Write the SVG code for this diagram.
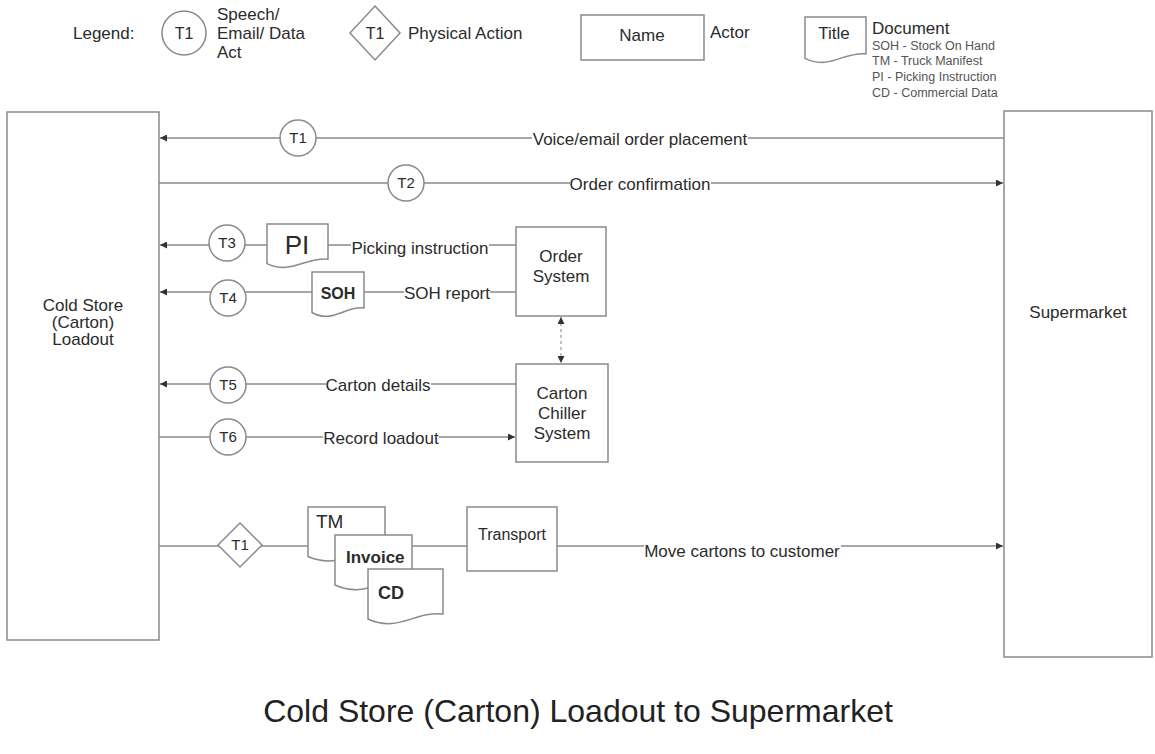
<svg xmlns="http://www.w3.org/2000/svg" width="1155" height="754" viewBox="0 0 1155 754">
<style>
text{font-family:"Liberation Sans",Arial,sans-serif;fill:#2b2b2b;font-size:17px}
.m{text-anchor:middle}
.box{fill:#fff;stroke:#8a8a8a;stroke-width:1.5}
.ln{stroke:#8a8a8a;stroke-width:1.5;fill:none}
.t{font-size:15px;text-anchor:middle}
.sm{font-size:12.5px;fill:#555}
.bg{fill:#fff}
</style>
<defs>
<marker id="ah" viewBox="0 0 10 10" refX="10" refY="5" markerWidth="7" markerHeight="7" markerUnits="userSpaceOnUse" orient="auto-start-reverse">
<path d="M0,0 L10,5 L0,10 z" fill="#333"/>
</marker>
</defs>
<rect width="1155" height="754" fill="#fff"/>

<g id="legend">
<text x="73" y="39">Legend:</text>
<circle class="box" cx="184" cy="33" r="22"/>
<text class="t" x="184" y="39" style="font-size:16px">T1</text>
<text x="217" y="20">Speech/</text>
<text x="217" y="39">Email/ Data</text>
<text x="217" y="58">Act</text>
<path class="box" d="M375,6 L400,33 L375,60 L350,33 Z"/>
<text class="t" x="375" y="39" style="font-size:16px">T1</text>
<text x="408" y="39">Physical Action</text>
<rect class="box" x="581" y="15" width="123" height="45"/>
<text class="m" x="642" y="41">Name</text>
<text x="710" y="38">Actor</text>
<path class="box" d="M805,17 H866 V53.8 C843.2,51.5 829.4,70.4 805,58.4 Z"/>
<text class="m" x="834" y="39">Title</text>
<text x="872" y="34">Document</text>
<text class="sm" x="872" y="50">SOH - Stock On Hand</text>
<text class="sm" x="872" y="65">TM - Truck Manifest</text>
<text class="sm" x="872" y="81">PI - Picking Instruction</text>
<text class="sm" x="872" y="97">CD - Commercial Data</text>
</g>

<g id="connectors">
<line class="ln" x1="1004" y1="138" x2="160" y2="138" marker-end="url(#ah)"/>
<line class="ln" x1="159" y1="183" x2="1003" y2="183" marker-end="url(#ah)"/>
<line class="ln" x1="516" y1="245" x2="160" y2="245" marker-end="url(#ah)"/>
<line class="ln" x1="516" y1="292" x2="160" y2="292" marker-end="url(#ah)"/>
<line class="ln" x1="516" y1="384" x2="160" y2="384" marker-end="url(#ah)"/>
<line class="ln" x1="159" y1="437" x2="515" y2="437" marker-end="url(#ah)"/>
<line class="ln" x1="159" y1="546" x2="1003" y2="546" marker-end="url(#ah)"/>
<line x1="561" y1="317" x2="561" y2="363" stroke="#999" stroke-width="1.2" stroke-dasharray="3,3" marker-start="url(#ah)" marker-end="url(#ah)"/>
<rect class="bg" x="532" y="129" width="216" height="20"/>
<text class="m" x="640" y="145">Voice/email order placement</text>
<rect class="bg" x="570" y="175" width="141" height="20"/>
<text class="m" x="640" y="190">Order confirmation</text>
<rect class="bg" x="351" y="238" width="138" height="20"/>
<text class="m" x="420" y="254">Picking instruction</text>
<rect class="bg" x="404" y="284" width="86" height="20"/>
<text class="m" x="447" y="299">SOH report</text>
<rect class="bg" x="326" y="376" width="105" height="20"/>
<text class="m" x="378" y="391">Carton details</text>
<rect class="bg" x="323" y="429" width="116" height="20"/>
<text class="m" x="381" y="444">Record loadout</text>
<rect class="bg" x="644" y="542" width="197" height="20"/>
<text class="m" x="742" y="557">Move cartons to customer</text>
</g>

<g id="cold-store">
<rect class="box" x="7" y="112" width="152" height="528"/>
<text class="m" x="83" y="311">Cold Store</text>
<text class="m" x="83" y="328">(Carton)</text>
<text class="m" x="83" y="345">Loadout</text>
</g>

<g id="supermarket">
<rect class="box" x="1004" y="111" width="148" height="546"/>
<text class="m" x="1078" y="318">Supermarket</text>
</g>

<g id="order-system">
<rect class="box" x="516" y="227" width="90" height="89"/>
<text class="m" x="561" y="262">Order</text>
<text class="m" x="561" y="282">System</text>
</g>

<g id="carton-chiller-system">
<rect class="box" x="516" y="364" width="92" height="98"/>
<text class="m" x="562" y="399">Carton</text>
<text class="m" x="562" y="419">Chiller</text>
<text class="m" x="562" y="439">System</text>
</g>

<g id="t1"><circle class="box" cx="298" cy="138" r="18"/><text class="t" x="298" y="143">T1</text></g>
<g id="t2"><circle class="box" cx="406" cy="183" r="18"/><text class="t" x="406" y="188">T2</text></g>
<g id="t3"><circle class="box" cx="227" cy="243" r="18"/><text class="t" x="227" y="248">T3</text></g>
<g id="t4"><circle class="box" cx="228" cy="298" r="18"/><text class="t" x="228" y="303">T4</text></g>
<g id="t5"><circle class="box" cx="228" cy="385" r="18"/><text class="t" x="228" y="390">T5</text></g>
<g id="t6"><circle class="box" cx="228" cy="437" r="18"/><text class="t" x="228" y="442">T6</text></g>

<g id="doc-pi">
<path class="box" d="M267,224 H328 V259.2 C305.2,257 291.4,275 267,263.6 Z"/>
<text class="m" x="297" y="254" style="font-size:26px">PI</text>
</g>
<g id="doc-soh">
<path class="box" d="M312,272 H364 V308 C344.6,305.8 332.8,324 312,312.5 Z"/>
<text class="m" x="338" y="299" style="font-size:16px;font-weight:bold">SOH</text>
</g>

<g id="physical-t1">
<path class="box" d="M240,523 L262,545 L240,567 L218,545 Z"/>
<text class="t" x="240" y="550">T1</text>
</g>

<g id="doc-tm">
<path class="box" d="M308,507 H385 V551 C356,548 339,570 308,556.5 Z"/>
<text x="316" y="528" style="font-size:19px">TM</text>
</g>
<g id="doc-invoice">
<path class="box" d="M335,535 H412 V580 C383,577 366,599 335,585 Z"/>
<text x="346" y="563" style="font-size:17px;font-weight:bold">Invoice</text>
</g>
<g id="doc-cd">
<path class="box" d="M368,569 H443 V614 C414.5,611 398,633 368,619 Z"/>
<text x="378" y="599" style="font-size:18px;font-weight:bold">CD</text>
</g>

<g id="transport">
<rect class="box" x="467" y="507" width="90" height="64"/>
<text class="m" x="512" y="540" style="font-size:16px">Transport</text>
</g>

<text class="m" x="578" y="722" style="font-size:32px;fill:#222">Cold Store (Carton) Loadout to Supermarket</text>
</svg>
